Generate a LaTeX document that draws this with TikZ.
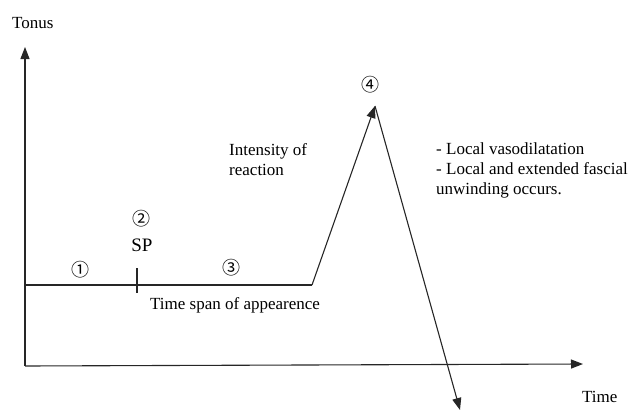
\documentclass[tikz,border=0pt]{standalone}
\usepackage{fontspec}
\setmainfont{Liberation Serif}
\newfontfamily\symfont{Noto Sans CJK SC}
\usetikzlibrary{arrows.meta}
\begin{document}
\begin{tikzpicture}[x=1pt,y=-1pt,
  line/.style={line width=1.1pt,draw=black!85},
  arr/.style={line,-{Triangle[length=12pt,width=9pt]}},
  lbl/.style={font=\fontsize{17}{20}\selectfont,inner sep=0pt,anchor=base west,align=left},
  num/.style={font=\symfont\fontsize{18}{18}\selectfont,inner sep=0pt}]
\useasboundingbox (0,0) rectangle (637,415);
\coordinate (O) at (25,366);
\coordinate (ytop) at (25,47);
\coordinate (xend) at (583,364);
\coordinate (b0) at (25,285);
\coordinate (b1) at (312,285);
\coordinate (peak) at (375,106);
\coordinate (dend) at (460,410);
\coordinate (t1) at (137,268);
\coordinate (t2) at (137,293);
\draw[arr] (O) -- (ytop);
\draw[arr] (O) -- (xend);
\draw[line] (b0) -- (b1);
\draw[arr] (b1) -- (peak);
\draw[arr] (peak) -- (dend);
\draw[line] (t1) -- (t2);
\node[lbl] (tonus) at (12,28) {Tonus};
\node[lbl] (time) at (582,402) {Time};
\node[lbl,anchor=base,font=\fontsize{19}{20}\selectfont] (sp) at (142,251) {SP};
\node[lbl] (span) at (150,309) {Time span of appearence};
\node[lbl] (int) at (229,175) {Intensity of\\reaction};
\node[lbl] (loc) at (436,194) {- Local vasodilatation\\- Local and extended fascial\\unwinding occurs.};
\node[num] (n1) at (80,270) {①};
\node[num] (n2) at (141,219) {②};
\node[num] (n3) at (231,268) {③};
\node[num] (n4) at (370,85) {④};
\end{tikzpicture}
\end{document}
